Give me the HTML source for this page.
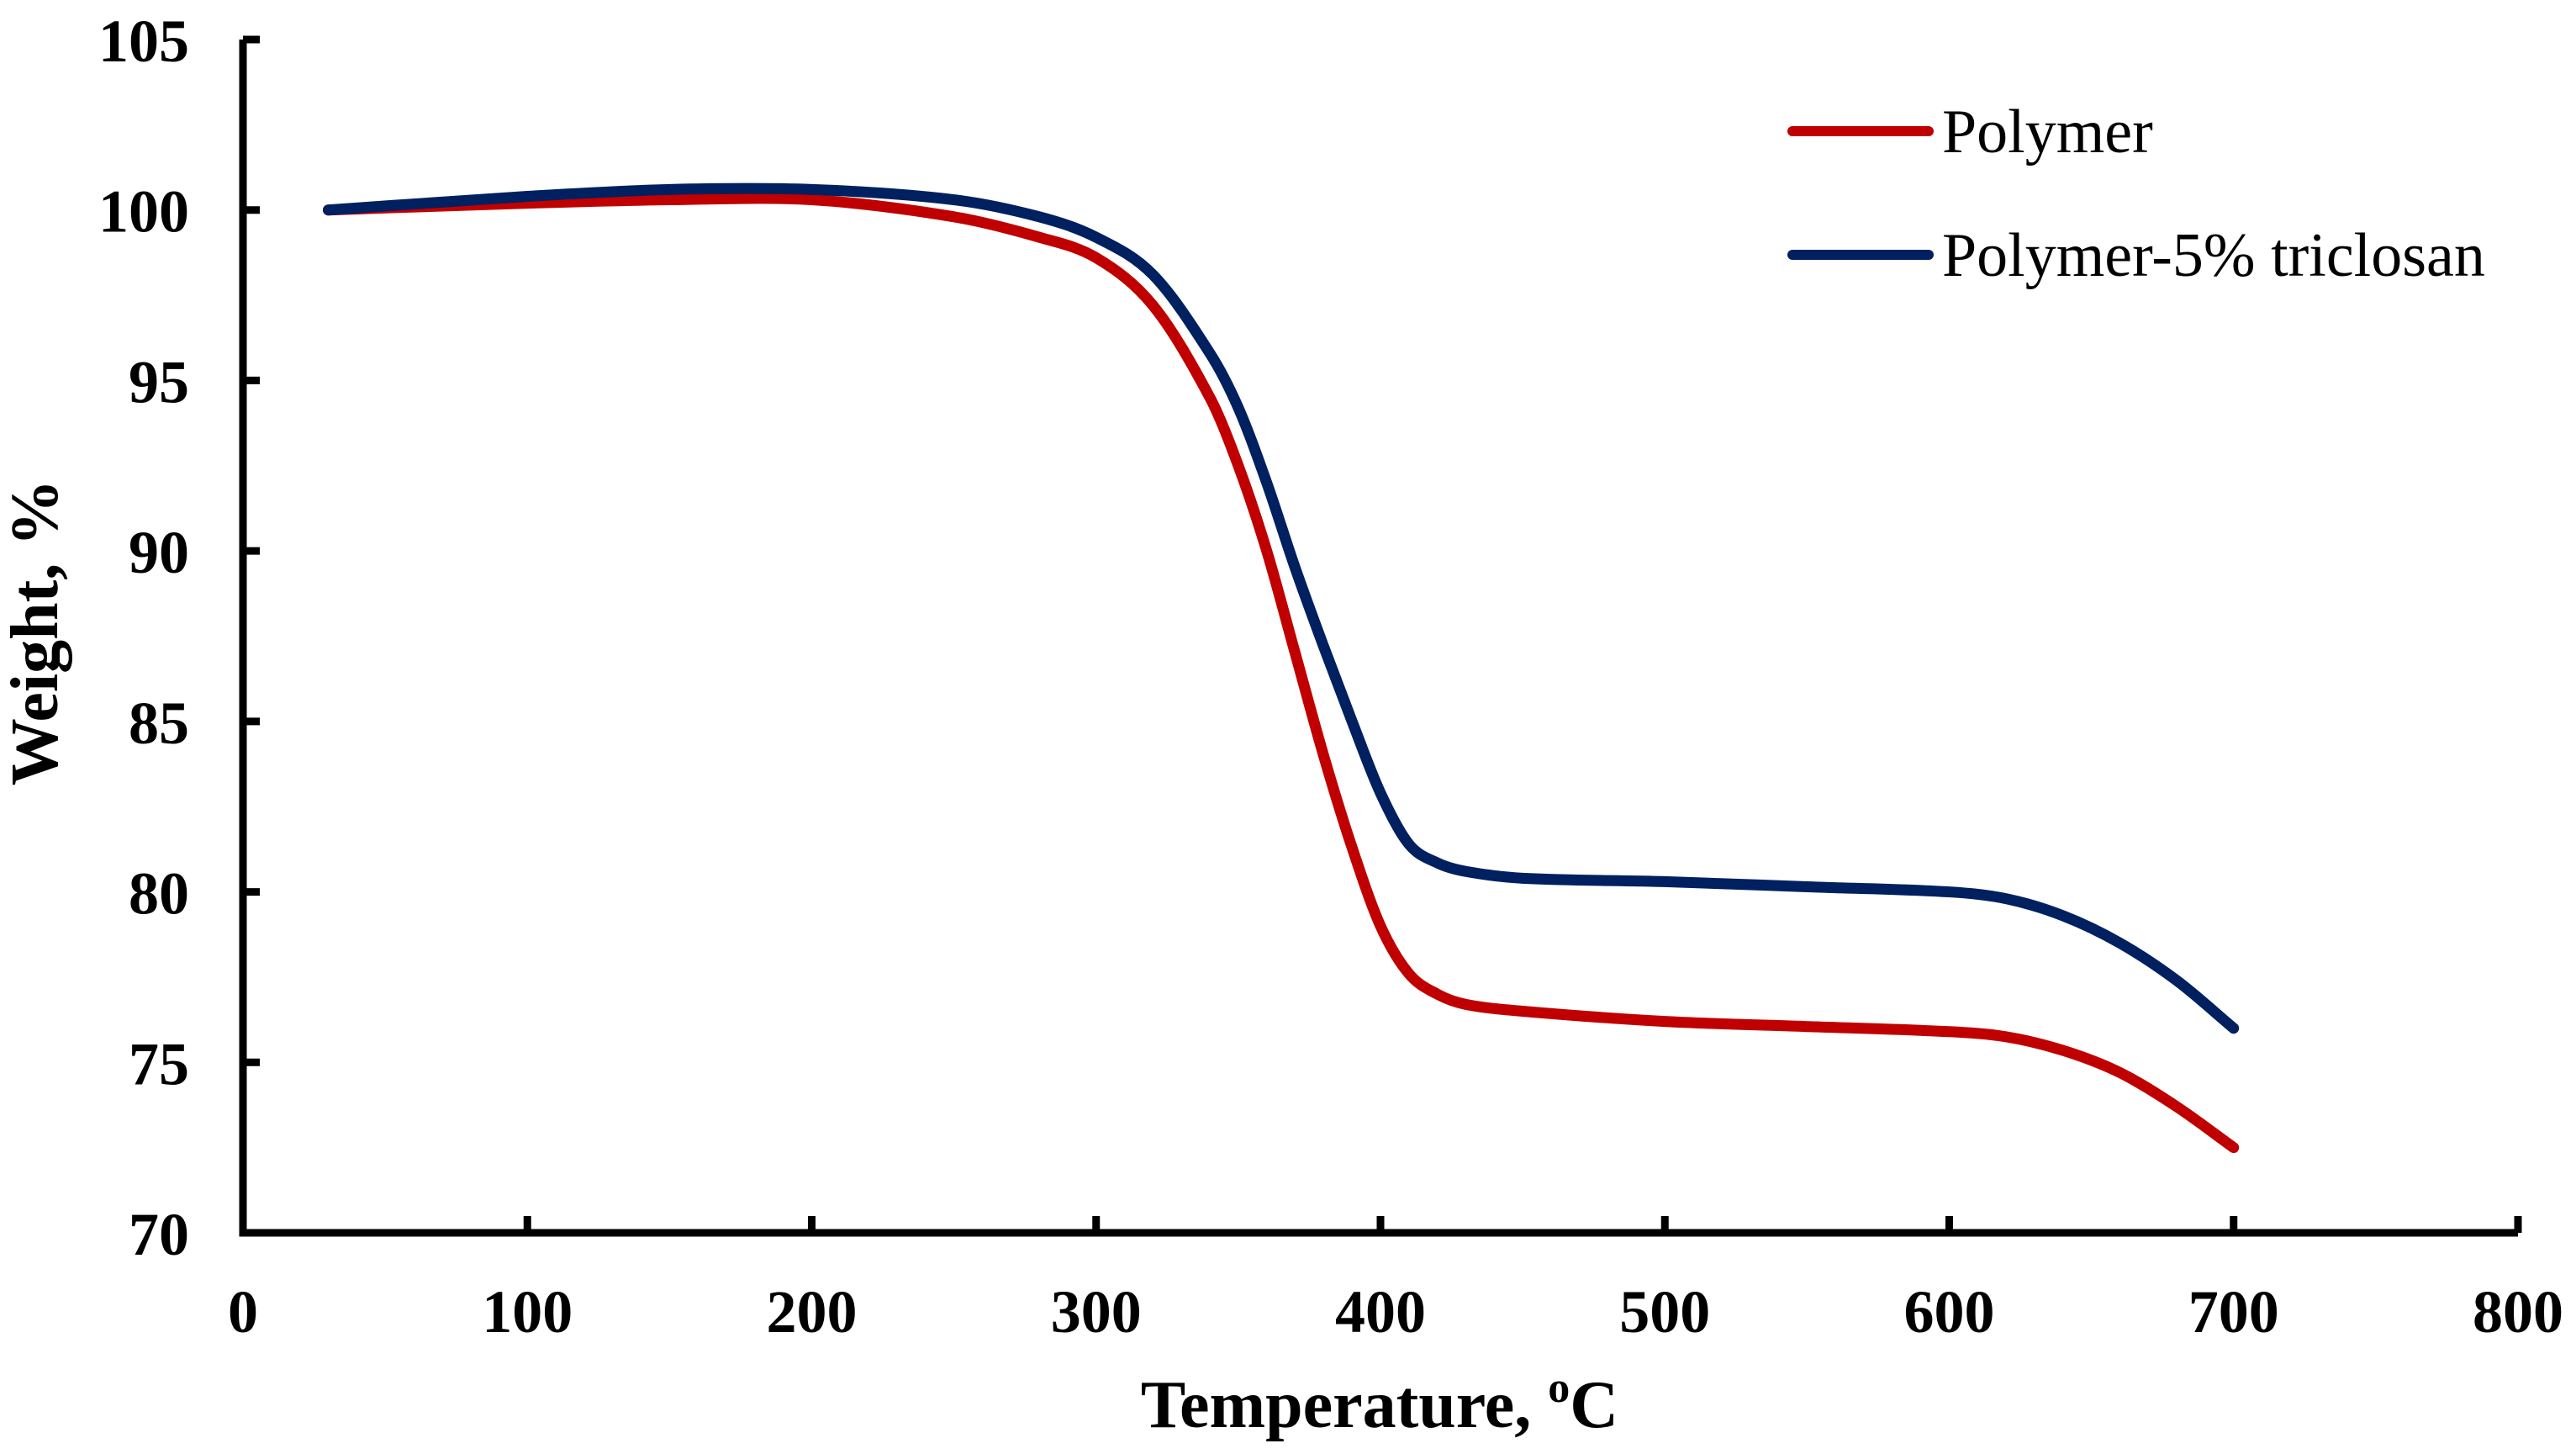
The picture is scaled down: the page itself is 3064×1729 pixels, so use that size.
<!DOCTYPE html>
<html><head><meta charset="utf-8"><style>
html,body{margin:0;padding:0;background:#fff;}
svg{display:block;font-family:"Liberation Serif","Times New Roman",serif;}
</style></head><body>
<svg id="chart" width="3064" height="1729" viewBox="0 0 3064 1729">
<g id="axes"></g>
<g id="series"></g>
<g id="legend"></g>
<text x="1641" y="1697" text-anchor="middle" font-size="80" font-weight="bold">Temperature, <tspan font-size="52" dy="-30">o</tspan><tspan dy="30">C</tspan></text>
<text transform="translate(68,752) rotate(-90)" text-anchor="middle" font-size="80" font-weight="bold">Weight, %</text>
</svg>
<script>
const xTicks = [0,100,200,300,400,500,600,700,800];
const yTicks = [70,75,80,85,90,95,100,105];
const temps = [30,100,150,200,250,280,300,320,340,350,360,370,380,390,400,410,420,430,450,500,550,600,620,640,660,680,700];
const polymer = [100,100.2,100.3,100.3,99.8,99.2,98.6,97.2,94.5,92.5,90,87,84,81.3,79.0,77.6,77.0,76.7,76.5,76.2,76.05,75.9,75.75,75.35,74.7,73.7,72.5];
const tempsB = [30,100,150,200,250,280,300,320,340,350,360,370,380,390,400,410,420,430,450,500,550,600,620,640,660,680,700];
const polymerTriclosan = [100,100.4,100.6,100.6,100.3,99.8,99.2,98.1,95.8,94.2,92,89.5,87.2,85,82.9,81.4,80.85,80.6,80.4,80.3,80.15,80.0,79.8,79.3,78.5,77.4,76];
const seriesNames = ["Polymer","Polymer-5% triclosan"];

const NS="http://www.w3.org/2000/svg";
const X0=289,X1=2995,Y0=1466,Y1=47;
const xs=v=>X0+(v-0)/(800-0)*(X1-X0);
const ys=v=>Y0-(v-70)/(105-70)*(Y0-Y1);
function mk(tag,attrs,parent){const e=document.createElementNS(NS,tag);for(const k in attrs)e.setAttribute(k,attrs[k]);parent.appendChild(e);return e;}
const axes=document.getElementById('axes');
let a=mk('path',{d:`M${X0},${Y1} V${Y0} H${X1}`,fill:'none',stroke:'#000','stroke-width':9},axes);


xTicks.forEach(t=>{
  const x=xs(t);
  const l=mk('line',{x1:x,x2:x,y1:Y0,y2:Y0-20,stroke:'#000','stroke-width':9},axes);
  
  
  const tx=mk('text',{x:x,y:1584,'text-anchor':'middle','font-size':72,'font-weight':'bold'},axes);
  tx.textContent=t;
  
  
});
yTicks.forEach(t=>{
  const y=ys(t);
  const l=mk('line',{x1:X0,x2:X0+20,y1:y,y2:y,stroke:'#000','stroke-width':9},axes);
  
  
  const tx=mk('text',{x:225,y:y+26,'text-anchor':'end','font-size':72,'font-weight':'bold'},axes);
  tx.textContent=t;
  
  
});
function smooth(px,py){
  const p=px.map((v,i)=>[xs(v),ys(py[i])]);
  let d=`M${p[0][0]},${p[0][1]}`;
  for(let i=0;i<p.length-1;i++){
    const p0=p[Math.max(i-1,0)],p1=p[i],p2=p[i+1],p3=p[Math.min(i+2,p.length-1)];
    const h=p2[0]-p1[0];
    const s1=(p2[1]-p0[1])/((p2[0]-p0[0])||1), s2=(p3[1]-p1[1])/((p3[0]-p1[0])||1);
    const c1=[p1[0]+h/3,p1[1]+s1*h/3];
    const c2=[p2[0]-h/3,p2[1]-s2*h/3];
    d+=` C${c1[0]},${c1[1]} ${c2[0]},${c2[1]} ${p2[0]},${p2[1]}`;
  }
  return d;
}
const sg=document.getElementById('series');
let r=mk('path',{d:smooth(temps,polymer),fill:'none',stroke:'#c00000','stroke-width':13,'stroke-linecap':'round','stroke-linejoin':'round'},sg);


let b=mk('path',{d:smooth(tempsB,polymerTriclosan),fill:'none',stroke:'#002060','stroke-width':13,'stroke-linecap':'round','stroke-linejoin':'round'},sg);


const lg=document.getElementById('legend');
const colors=['#c00000','#002060'];
seriesNames.forEach((n,i)=>{
  const y=156+i*147;
  const l=mk('line',{x1:2132,x2:2294,y1:y,y2:y,stroke:colors[i],'stroke-width':12,'stroke-linecap':'round'},lg);
  
  
  const t=mk('text',{x:2310,y:y+25,'font-size':74},lg);
  t.textContent=n;
  
  
});
</script>
</body></html>
